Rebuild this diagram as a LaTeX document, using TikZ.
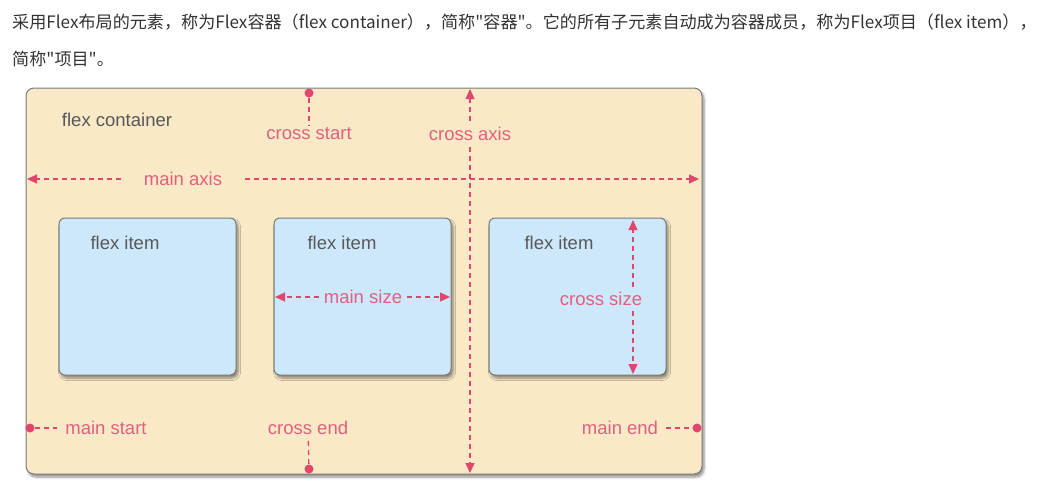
\documentclass[tikz,border=0pt]{standalone}
\usepackage{fontspec}
\setmainfont{Liberation Sans}
\newfontfamily\cjk{Noto Sans CJK SC}
\usetikzlibrary{arrows.meta}
\usetikzlibrary{shadows.blur}
\definecolor{bgtan}{HTML}{F9E9C7}
\definecolor{itemblue}{HTML}{CDE8FB}
\definecolor{edge}{HTML}{7A7A7A}
\definecolor{pinkline}{HTML}{E0466E}
\definecolor{pinktext}{HTML}{E2607F}
\definecolor{graytext}{HTML}{585858}
\definecolor{introtext}{HTML}{333333}

\begin{document}
\begin{tikzpicture}[x=1pt, y=-1pt]
    \tikzstyle{box} = [draw=edge, line width=1pt, inner sep=0pt,
      blur shadow={shadow xshift=2pt, shadow yshift=-3pt, shadow opacity=45,
        shadow blur radius=2.5pt, shadow blur steps=6}];
    \tikzstyle{dot} = [circle, fill=pinkline, inner sep=0pt, minimum size=9pt];
    \tikzstyle{lbl} = [text=pinktext, inner sep=3pt, font=\fontsize{18.5}{20}\selectfont];
    \tikzstyle{gray lbl} = [text=graytext, inner sep=3pt, font=\fontsize{18.5}{20}\selectfont];
    \tikzstyle{axis} = [draw=pinkline, line width=1.3pt, dash pattern=on 5pt off 4pt];
    \tikzstyle{tip} = [-{Triangle[length=10pt, width=9pt]}];

    \useasboundingbox (0,0) rectangle (1042,493);

    % intro text
    \node (intro_1) at (12,22) [anchor=west, inner sep=0pt, text=introtext,
      font=\cjk\fontsize{17.1}{19}\selectfont]
      {采用Flex布局的元素，称为Flex容器（flex container），简称"容器"。它的所有子元素自动成为容器成员，称为Flex项目（flex item），};
    \node (intro_2) at (12,59) [anchor=west, inner sep=0pt, text=introtext,
      font=\cjk\fontsize{17.1}{19}\selectfont] {简称"项目"。};

    % container and items
    \node (cont) at (364,281) [box, fill=bgtan, rounded corners=8pt,
      minimum width=676pt, minimum height=386pt] {};
    \node (item_1) at (147.5,296.5) [box, fill=itemblue, rounded corners=6pt,
      minimum width=177pt, minimum height=157pt] {};
    \node (item_2) at (362.5,296.5) [box, fill=itemblue, rounded corners=6pt,
      minimum width=177pt, minimum height=157pt] {};
    \node (item_3) at (577.5,296.5) [box, fill=itemblue, rounded corners=6pt,
      minimum width=177pt, minimum height=157pt] {};

    \node (cont_lbl) at (117,120) [gray lbl] {flex container};
    \node (item_1_lbl) at (125,243) [gray lbl] {flex item};
    \node (item_2_lbl) at (342,243) [gray lbl] {flex item};
    \node (item_3_lbl) at (559,243) [gray lbl] {flex item};

    % labels
    \node (cs_lbl)  at (309,134) [lbl] {cross start};
    \node (cx_lbl)  at (470,134) [lbl, inner ysep=6pt] {cross axis};
    \node (ax_lbl)  at (183,179) [lbl, inner xsep=23pt] {main axis};
    \node (ms_lbl)  at (363,297) [lbl, inner xsep=5pt] {main size};
    \node (csz_lbl) at (601,299) [lbl, inner ysep=5pt] {cross size};
    \node (mst_lbl) at (106,428) [lbl, inner xsep=8pt] {main start};
    \node (ce_lbl)  at (308,428) [lbl, inner ysep=6pt] {cross end};
    \node (me_lbl)  at (620,428) [lbl, inner xsep=8pt] {main end};

    % end points
    \node (cs_dot)  at (309,93)  [dot] {};
    \node (ce_dot)  at (309,469) [dot] {};
    \node (mst_dot) at (30,428)  [dot] {};
    \node (me_dot)  at (697,428) [dot] {};
    \coordinate (ax_l)  at (27,179);
    \coordinate (ax_r)  at (699,179);
    \coordinate (cx_t)  at (470,89);
    \coordinate (cx_b)  at (470,473);
    \coordinate (ms_l)  at (275,297);
    \coordinate (ms_r)  at (450,297);
    \coordinate (csz_t) at (633,220);
    \coordinate (csz_b) at (633,374);

    \begin{scope}[axis]
      \draw (cs_dot) -- (cs_lbl);
      \draw (ce_lbl) -- (ce_dot);
      \draw (mst_dot) -- (mst_lbl);
      \draw (me_lbl) -- (me_dot);

      \draw[tip] (ax_lbl) -- (ax_l);
      \draw[tip] (ax_lbl) -- (ax_r);
      \draw[tip] (cx_lbl) -- (cx_t);
      \draw[tip] (cx_lbl) -- (cx_b);
      \draw[tip] (ms_lbl) -- (ms_l);
      \draw[tip] (ms_lbl) -- (ms_r);
      \draw[tip] (csz_lbl.north -| csz_t) -- (csz_t);
      \draw[tip] (csz_lbl.south -| csz_b) -- (csz_b);
    \end{scope}
  \end{tikzpicture}
\end{document}
